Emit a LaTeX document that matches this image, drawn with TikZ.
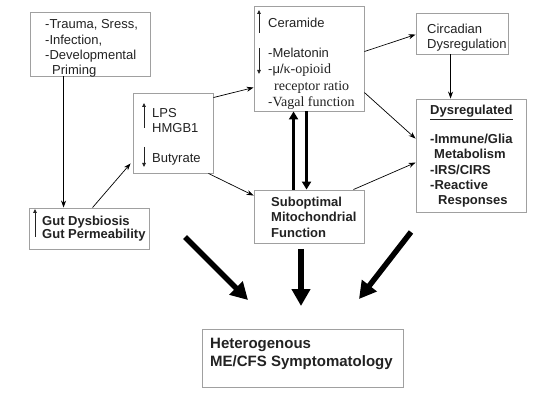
\documentclass[tikz,border=0pt]{standalone}
\usepackage{fontspec}
\setmainfont{Liberation Sans}
\newfontfamily\tms{Liberation Serif}
\usetikzlibrary{arrows.meta}
\definecolor{txt}{HTML}{222222}
\definecolor{boxc}{HTML}{A0A0A0}
\tikzset{
  box/.style={draw=boxc, line width=0.9pt, inner sep=0pt, fill=white},
  lbl/.style={anchor=west, inner sep=0pt, text=txt, font=\fontsize{13}{15}\selectfont, text height=9.5pt, text depth=2.5pt, yshift=-1.5pt},
  blbl/.style={lbl, font=\fontsize{13}{15}\selectfont\bfseries},
  hlbl/.style={lbl, font=\fontsize{15}{17}\selectfont\bfseries, text height=11pt, text depth=3pt},
  conn/.style={draw=black, line width=0.7pt, -{Stealth[length=7pt,width=5pt]}},
  mid/.style={draw=black, line width=3pt, -{Triangle[length=8pt,width=9pt]}},
  big/.style={draw=black, line width=5.5pt, -{Triangle[length=17pt,width=18pt]}},
  inarrow/.style={draw=txt, line width=0.8pt, -{Triangle[length=4pt,width=3.5pt]}}
}
\begin{document}
\begin{tikzpicture}[x=1pt,y=-1pt]
\useasboundingbox[fill=white] (0,0) rectangle (543,403);
% boxes
\node[box, minimum width=120pt, minimum height=64pt] (trauma) at (90,44) {};
\node[box, minimum width=80pt, minimum height=80pt] (lps) at (173,133) {};
\node[box, minimum width=110pt, minimum height=105pt] (cer) at (309,58.5) {};
\node[box, minimum width=92pt, minimum height=41pt] (circ) at (462,33.5) {};
\node[box, minimum width=110pt, minimum height=113pt] (dys) at (471,155.5) {};
\node[box, minimum width=110pt, minimum height=53pt] (sub) at (309,216.5) {};
\node[box, minimum width=120pt, minimum height=41pt] (gut) at (89,228.5) {};
\node[box, minimum width=201pt, minimum height=58pt] (het) at (302.5,358) {};
% texts
\node[lbl] (t1) at (45,24) {-Trauma, Sress,};
\node[lbl] (t2) at (45,40) {-Infection,};
\node[lbl] (t3) at (45,55) {-Developmental};
\node[lbl] (t4) at (52,70) {Priming};
\node[lbl] (l1) at (152,113) {LPS};
\node[lbl] (l2) at (152,128) {HMGB1};
\node[lbl] (l3) at (152,158) {Butyrate};
\node[lbl] (c1) at (268,23) {Ceramide};
\node[lbl] (c2) at (268,53) {-Melatonin};
\node[lbl] (c3) at (268,69) {-μ/{\tms\fontsize{14}{16}\selectfont κ-opioid}};
\node[lbl, font=\tms\fontsize{14}{16}\selectfont] (c4) at (274,86) {receptor ratio};
\node[lbl] (c5) at (268,102) {-{\tms\fontsize{14}{16}\selectfont Vagal function}};
\node[lbl] (r1) at (427,29) {Circadian};
\node[lbl] (r2) at (427,44) {Dysregulation};
\node[blbl] (d1) at (430,110) {\underline{Dysregulated}};
\node[blbl] (d2) at (430,139) {-Immune/Glia};
\node[blbl] (d3) at (434,154) {Metabolism};
\node[blbl] (d4) at (430,170) {-IRS/CIRS};
\node[blbl] (d5) at (430,185) {-Reactive};
\node[blbl] (d6) at (438,200) {Responses};
\node[blbl] (s1) at (271,202) {Suboptimal};
\node[blbl] (s2) at (271,217) {Mitochondrial};
\node[blbl] (s3) at (271,232) {Function};
\node[blbl] (g1) at (42,221) {Gut Dysbiosis};
\node[blbl] (g2) at (42,234) {Gut Permeability};
\node[hlbl] (h1) at (210,343) {Heterogenous};
\node[hlbl] (h2) at (210,361) {ME/CFS Symptomatology};
% small in-box arrows
\draw[inarrow] (259,33) -- (259,10);
\draw[inarrow] (259,48) -- (259,74);
\draw[inarrow] (144,128) -- (144,103);
\draw[inarrow] (144,147) -- (144,167);
\draw[inarrow] (35,237) -- (35,209);
% thin connectors
\draw[conn] ([xshift=34pt]trauma.south west) -- ([xshift=35pt]gut.north west);
\draw[conn] ([xshift=64pt]gut.north west) -- ([xshift=-2pt,yshift=10pt]lps.south west);
\draw[conn] ([yshift=-5pt]lps.north east) -- ([yshift=-82pt]cer.north west);
\draw[conn] ([xshift=-5pt]lps.south east) -- ([yshift=-6pt]sub.north west);
\draw[conn] ([yshift=-46pt]cer.north east) -- ([yshift=-22pt]circ.north west);
\draw[conn] ([xshift=35pt]circ.south west) -- ([xshift=35pt]dys.north west);
\draw[conn] ([yshift=-87pt]cer.north east) -- ([yshift=-40pt]dys.north west);
\draw[conn] ([xshift=-11pt]sub.north east) -- ([yshift=-64pt]dys.north west);
% thick between ceramide and suboptimal
\draw[mid] ([xshift=40pt]sub.north west) -- ([xshift=40pt]cer.south west);
\draw[mid] ([xshift=53pt]cer.south west) -- ([xshift=53pt]sub.north west);
% big arrows
\coordinate (bl1) at (185,237);
\coordinate (bl2) at (248,300);
\coordinate (bc1) at (301,249);
\coordinate (bc2) at (301,306);
\coordinate (br1) at (411,232);
\coordinate (br2) at (359,299);
\draw[big] (bl1) -- (bl2);
\draw[big] (bc1) -- (bc2);
\draw[big] (br1) -- (br2);
\end{tikzpicture}
\end{document}
